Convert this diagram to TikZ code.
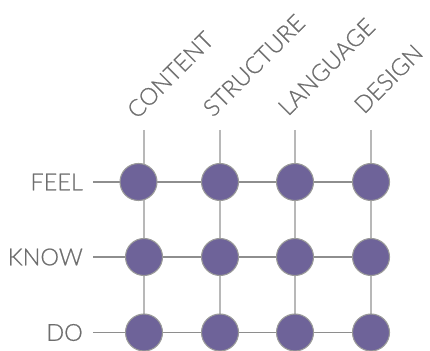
\documentclass[tikz,border=0pt]{standalone}
\usepackage{fontspec}
\setmainfont{Lato}[UprightFont=* Light, FakeBold=0.8]
\usetikzlibrary{backgrounds}
\definecolor{dotfill}{HTML}{6E6399}
\definecolor{dotedge}{HTML}{9A9A9A}
\definecolor{labelgray}{HTML}{6E6E6E}
\definecolor{vline}{HTML}{B8B8B8}
\definecolor{hline}{HTML}{8E8E8E}
\begin{document}
\begin{tikzpicture}[x=1pt,y=1pt,
  dot/.style={circle,fill=dotfill,draw=dotedge,line width=1.1pt,minimum size=37pt,inner sep=0pt},
  rowlabel/.style={text=labelgray,font=\fontsize{23.5}{24}\selectfont,anchor=east,inner sep=0pt},
  collabel/.style={text=labelgray,font=\fontsize{23.5}{24}\selectfont,anchor=base west,rotate=45,inner sep=0pt},
  vlink/.style={draw=vline,line width=1.4pt},
  hlink/.style={draw=hline,line width=1.2pt}]
\useasboundingbox (0,0) rectangle (430,350);

% column headings
\node[collabel] (hc) at (137,230) {CONTENT};
\node[collabel] (hs) at (213,232) {STRUCTURE};
\node[collabel] (hl) at (288,233) {LANGUAGE};
\node[collabel] (hd) at (364,235) {DESIGN};

% top ends of the column lines
\coordinate (t1) at (144,220);
\coordinate (t2) at (220,220);
\coordinate (t3) at (295,220);
\coordinate (t4) at (371,220);

% row labels
\node[rowlabel] (feel) at (83,168) {FEEL};
\node[rowlabel] (know) at (83,93) {KNOW};
\node[rowlabel] (do) at (83,17.5) {DO};

% left ends of the row lines
\coordinate (s1) at (93,168);
\coordinate (s2) at (93,93);
\coordinate (s3) at (93,17.5);

% grid of dots
\node[dot] (d11) at (138.5,168) {};
\node[dot] (d12) at (220,168) {};
\node[dot] (d13) at (295,168) {};
\node[dot] (d14) at (371,168) {};
\node[dot] (d21) at (144,93) {};
\node[dot] (d22) at (220,93) {};
\node[dot] (d23) at (295,93) {};
\node[dot] (d24) at (371,93) {};
\node[dot] (d31) at (144,17.5) {};
\node[dot] (d32) at (220,17.5) {};
\node[dot] (d33) at (295,17.5) {};
\node[dot] (d34) at (371,17.5) {};

\begin{scope}[on background layer]
  \draw[vlink] (t1) -- (d31.center);
  \draw[vlink] (t2) -- (d32.center);
  \draw[vlink] (t3) -- (d33.center);
  \draw[vlink] (t4) -- (d34.center);
  \draw[hlink] (s1) -- (d14.center);
  \draw[hlink] (s2) -- (d24.center);
  \draw[hlink] (s3) -- (d34.center);
\end{scope}
\end{tikzpicture}
\end{document}
